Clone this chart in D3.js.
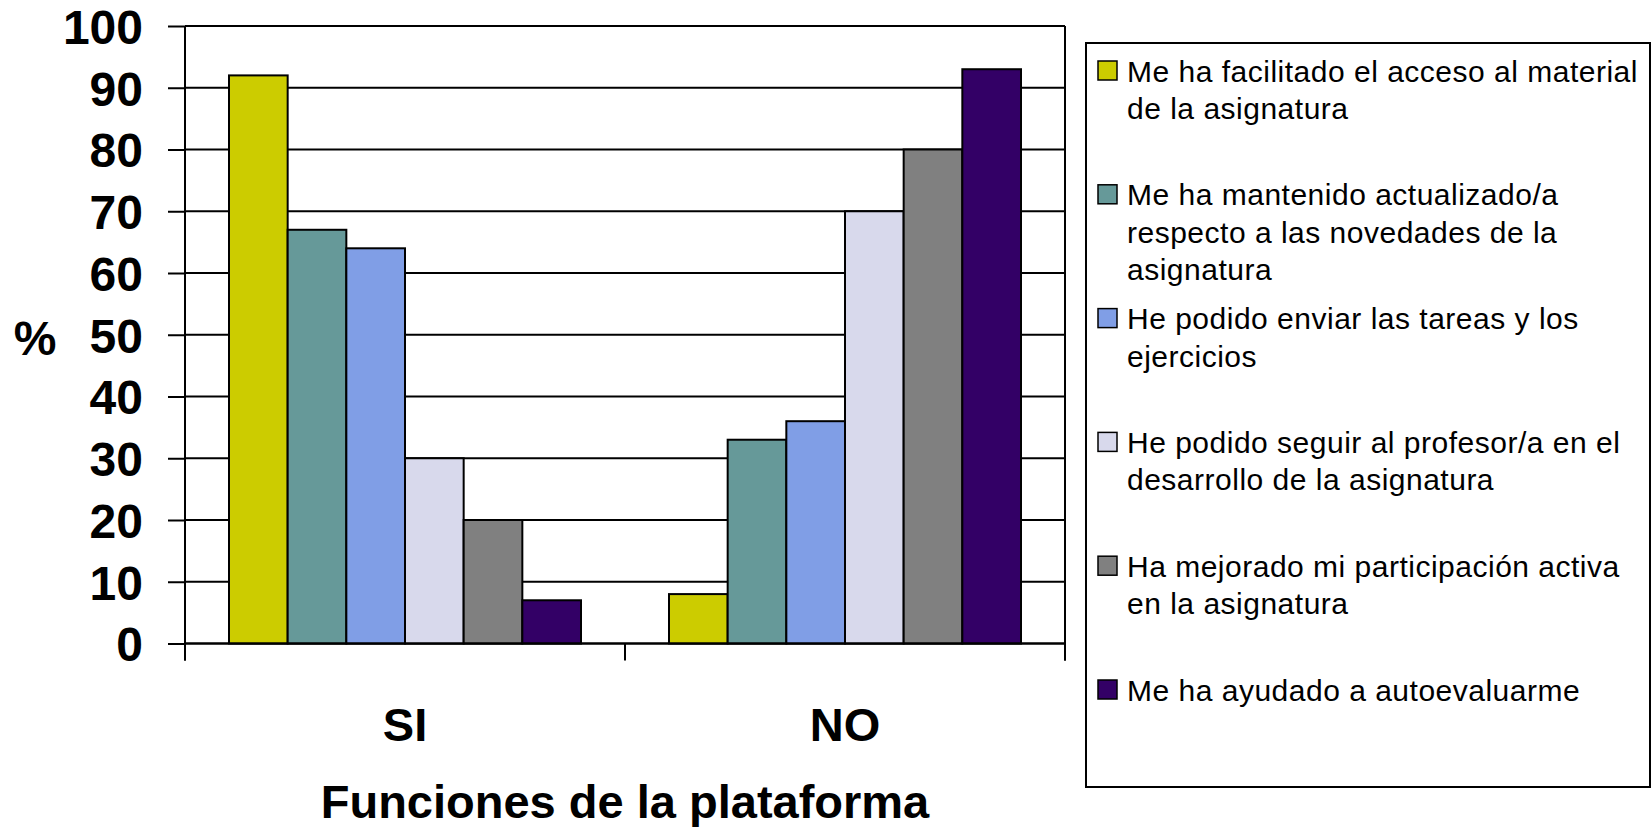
<!DOCTYPE html>
<html>
<head>
<meta charset="utf-8">
<script src="https://cdn.jsdelivr.net/npm/d3@7"></script>
<style>
    body { margin: 0; background: #fff; }
    svg { display: block; font-family: "Liberation Sans", Arial, sans-serif; }
    .tick-label { font-weight: bold; font-size: 48px; }
    .legend-text { font-size: 30px; letter-spacing: 0.5px; }
</style>
</head>
<body>
<script>
(function () {

//chart data
    var categories = ["SI", "NO"];
    var seriesLabels = [
        ["Me ha facilitado el acceso al material", "de la asignatura"],
        ["Me ha mantenido actualizado/a", "respecto a las novedades de la", "asignatura"],
        ["He podido enviar las tareas y los", "ejercicios"],
        ["He podido seguir al profesor/a en el", "desarrollo de la asignatura"],
        ["Ha mejorado mi participación activa", "en la asignatura"],
        ["Me ha ayudado a autoevaluarme"]
    ];
    //one array per series: [SI, NO]
    var seriesValues = [
        [92, 8],
        [67, 33],
        [64, 36],
        [30, 70],
        [20, 80],
        [7, 93]
    ];
    var seriesColors = ["#CCCC00", "#669999", "#809EE6", "#D8D9EC", "#808080", "#330066"];
    var yTicks = [0, 10, 20, 30, 40, 50, 60, 70, 80, 90, 100];
    var yTitle = "%";
    var xTitle = "Funciones de la plataforma";

    var width = 1652,
        height = 827,
        plotLeft = 185,
        plotRight = 1065,
        plotTop = 26,
        plotBottom = 643.5;

    var svg = d3.select("body")
        .append("svg")
        .attr("width", width)
        .attr("height", height);

    var y = d3.scaleLinear()
        .domain([0, 100])
        .range([plotBottom, plotTop]);

    var x0 = d3.scaleBand()
        .domain(categories)
        .range([plotLeft, plotRight])
        .paddingInner(0.2)
        .paddingOuter(0.1);

    var x1 = d3.scaleBand()
        .domain(d3.range(seriesValues.length))
        .range([0, x0.bandwidth()]);

    //horizontal gridlines
    svg.append("g")
        .selectAll("line")
        .data(yTicks)
        .enter()
        .append("line")
        .attr("x1", plotLeft)
        .attr("x2", plotRight)
        .attr("y1", function (d) { return y(d); })
        .attr("y2", function (d) { return y(d); })
        .attr("stroke", "#000")
        .attr("stroke-width", 2);

    //y axis with outside ticks
    var yAxis = svg.append("g")
        .attr("transform", "translate(" + plotLeft + ",0)")
        .call(d3.axisLeft(y).tickValues(yTicks).tickSize(17).tickPadding(25));
    yAxis.select(".domain").remove();
    yAxis.selectAll(".tick line").attr("stroke", "#000").attr("stroke-width", 2);
    yAxis.selectAll(".tick text")
        .attr("class", "tick-label")
        .attr("fill", "#000")
        .attr("dy", "0.36em")
        .style("font-family", "'Liberation Sans', Arial, sans-serif");

    //bars
    var groups = svg.append("g")
        .selectAll("g")
        .data(seriesValues)
        .enter()
        .append("g")
        .attr("fill", function (d, i) { return seriesColors[i]; });

    groups.selectAll("rect")
        .data(function (d, i) {
            return categories.map(function (c, j) { return {cat: c, s: i, v: d[j]}; });
        })
        .enter()
        .append("rect")
        .attr("x", function (d) { return x0(d.cat) + x1(d.s); })
        .attr("width", x1.bandwidth())
        .attr("y", function (d) { return y(d.v); })
        .attr("height", function (d) { return y(0) - y(d.v); })
        .attr("stroke", "#000")
        .attr("stroke-width", 2);

    //frame: left axis, right border, baseline
    svg.append("line")
        .attr("x1", plotLeft).attr("x2", plotLeft)
        .attr("y1", plotTop).attr("y2", plotBottom + 17)
        .attr("stroke", "#000").attr("stroke-width", 2);
    svg.append("line")
        .attr("x1", plotRight).attr("x2", plotRight)
        .attr("y1", plotTop).attr("y2", plotBottom + 17)
        .attr("stroke", "#000").attr("stroke-width", 2);
    svg.append("line")
        .attr("x1", plotLeft).attr("x2", plotRight)
        .attr("y1", plotBottom).attr("y2", plotBottom)
        .attr("stroke", "#000").attr("stroke-width", 2);

    //category boundary ticks
    svg.append("g")
        .selectAll("line")
        .data(d3.range(categories.length + 1))
        .enter()
        .append("line")
        .attr("x1", function (i) { return plotLeft + i * x0.step(); })
        .attr("x2", function (i) { return plotLeft + i * x0.step(); })
        .attr("y1", plotBottom)
        .attr("y2", plotBottom + 17)
        .attr("stroke", "#000")
        .attr("stroke-width", 2);

    //category labels
    var xAxis = svg.append("g")
        .attr("transform", "translate(0," + plotBottom + ")")
        .call(d3.axisBottom(x0).tickSize(0).tickPadding(64));
    xAxis.select(".domain").remove();
    xAxis.selectAll(".tick text")
        .attr("fill", "#000")
        .style("font-family", "'Liberation Sans', Arial, sans-serif")
        .style("font-weight", "bold")
        .style("font-size", "47px");

    //axis titles
    svg.append("text")
        .attr("x", 35)
        .attr("y", 355)
        .attr("text-anchor", "middle")
        .style("font-weight", "bold")
        .style("font-size", "48px")
        .text(yTitle);

    svg.append("text")
        .attr("x", (plotLeft + plotRight) / 2)
        .attr("y", 818)
        .attr("text-anchor", "middle")
        .style("font-weight", "bold")
        .style("font-size", "47px")
        .text(xTitle);

    //legend
    var legend = svg.append("g");
    legend.append("rect")
        .attr("x", 1086)
        .attr("y", 43)
        .attr("width", 564)
        .attr("height", 744)
        .attr("fill", "#fff")
        .attr("stroke", "#000")
        .attr("stroke-width", 2);

    var items = legend.selectAll(".item")
        .data(seriesLabels)
        .enter()
        .append("g")
        .attr("class", "item")
        .attr("transform", function (d, i) { return "translate(1098," + (61 + i * 123.8) + ")"; });

    items.append("rect")
        .attr("width", 19)
        .attr("height", 19)
        .attr("fill", function (d, i) { return seriesColors[i]; })
        .attr("stroke", "#000")
        .attr("stroke-width", 1.5);

    items.append("text")
        .attr("class", "legend-text")
        .selectAll("tspan")
        .data(function (d) { return d; })
        .enter()
        .append("tspan")
        .attr("x", 29)
        .attr("y", function (d, i) { return 20.5 + i * 37.5; })
        .text(function (d) { return d; });

})();
</script>
</body>
</html>
